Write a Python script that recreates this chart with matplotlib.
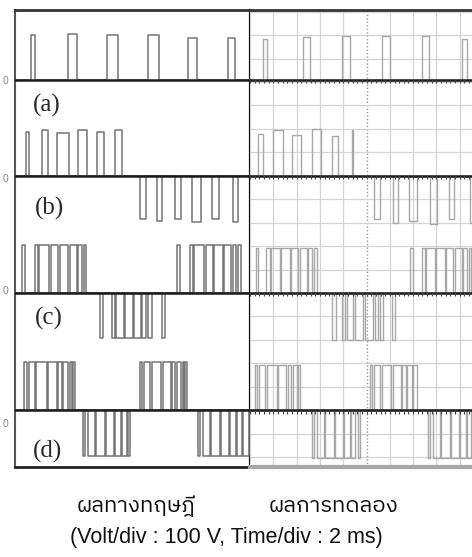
import matplotlib
matplotlib.use("Agg")
import matplotlib.pyplot as plt
from matplotlib import font_manager as fm
from matplotlib.ft2font import FT2Font
from matplotlib.transforms import blended_transform_factory

# ---------------- data (time in ms, voltage in V) ----------------
# trace zero levels (V) for the stacked traces
ZERO_A1, ZERO_A2, ZERO_C2 = 1410, 1000, 0
ZERO_B1, ZERO_B2, ZERO_C1, ZERO_D1 = 1000, 500, 500, 0
zero_levels = [1410, 1000, 500, 0]
zero_label_levels = [1403, 986, 510, -59]

# ---- theoretical (left) ----
a1_on = [1.37, 4.58, 7.92, 11.44, 14.88, 18.31]
a1_off = [1.72, 5.30, 8.87, 12.39, 15.60, 18.88]
a1_v = [191, 195, 192, 192, 178, 178]

a2_on = [0.94, 2.29, 3.58, 5.38, 7.01, 8.58]
a2_off = [1.20, 2.86, 4.64, 6.15, 7.67, 9.16]
a2_v = [186, 194, 181, 194, 186, 194]

b1_on = [10.73, 12.16, 13.73, 15.17, 16.88, 18.74]
b1_off = [11.22, 12.64, 14.22, 15.94, 17.51, 19.12]
b1_v = [-186, -193, -186, -198, -186, -198]

b2_on = [0.60, 1.72, 2.06, 3.09, 3.82, 4.68, 5.41, 5.88,
         13.90, 15.02, 15.36, 16.39, 17.12, 17.98, 18.71, 19.18]
b2_off = [0.82, 1.97, 2.96, 3.69, 4.55, 5.28, 5.71, 6.09,
          14.12, 15.27, 16.26, 16.99, 17.85, 18.58, 19.01, 19.39]
b2_amp = 205

c1_on = [7.29, 8.30, 8.71, 9.48, 10.25, 10.94, 11.41, 12.59]
c1_off = [7.58, 8.58, 9.35, 10.12, 10.81, 11.28, 11.73, 12.87]
c1_amp = -190

c2_on = [0.80, 1.20, 1.84, 2.86, 3.69, 4.16, 4.72, 5.02,
         10.73, 11.10, 11.72, 12.68, 13.46, 13.90, 14.40, 14.62]
c2_off = [1.00, 1.72, 2.72, 3.58, 4.01, 4.57, 4.86, 5.15,
          10.93, 11.60, 12.55, 13.35, 13.76, 14.28, 14.53, 14.73]
c2_amp = 205

d1_on = [5.86, 6.26, 6.99, 7.85, 8.62, 9.22, 9.74,
         15.73, 16.13, 16.86, 17.72, 18.49, 19.09, 19.61]
d1_off = [6.05, 6.86, 7.72, 8.49, 9.09, 9.58, 9.87,
          15.92, 16.73, 17.59, 18.36, 18.96, 19.45, 20.05]
d1_amp = -196

# ---- experimental (right) ----
ra1_on = [1.12, 4.55, 7.90, 11.33, 14.76, 18.20]
ra1_off = [1.46, 5.15, 8.58, 12.02, 15.36, 18.63]
ra1_v = [175, 183, 188, 188, 188, 175]

ra2_on = [0.69, 1.97, 3.61, 5.32, 7.04, 8.76]
ra2_off = [1.12, 2.83, 4.38, 6.09, 7.55, 8.88]
ra2_v = [179, 196, 175, 200, 170, 196]

rb1_on = [10.64, 12.27, 13.65, 15.45, 17.08, 18.88]
rb1_off = [11.16, 12.70, 14.33, 16.05, 17.51, 19.40]
rb1_v = [-186, -202, -194, -207, -186, -200]

rb2_on = [0.50, 1.40, 1.80, 2.68, 3.52, 4.28, 4.98, 5.50,
          13.73, 14.73, 15.10, 15.98, 16.82, 17.58, 18.28, 18.80]
rb2_off = [0.72, 1.70, 2.55, 3.40, 4.15, 4.85, 5.30, 5.72,
           13.95, 15.00, 15.85, 16.70, 17.45, 18.15, 18.60, 19.00]
rb2_amp = 192

rc1_on = [7.06, 7.87, 8.30, 9.00, 9.85, 10.70, 11.15, 12.16]
rc1_off = [7.35, 8.15, 8.87, 9.72, 10.58, 11.01, 11.45, 12.44]
rc1_amp = -200

rc2_on = [0.43, 0.80, 1.43, 2.42, 3.22, 3.68, 4.10,
          10.30, 10.68, 11.30, 12.25, 13.04, 13.50, 14.00]
rc2_off = [0.62, 1.30, 2.29, 3.10, 3.55, 4.00, 4.29,
           10.50, 11.18, 12.12, 12.92, 13.36, 13.88, 14.33]
rc2_amp = 192

rd1_on = [5.32, 5.72, 6.45, 7.31, 8.08, 8.68, 9.25,
          15.27, 15.67, 16.40, 17.26, 18.03, 18.63, 19.15]
rd1_off = [5.50, 6.32, 7.18, 7.95, 8.55, 9.04, 9.44,
           15.46, 16.27, 17.13, 17.90, 18.50, 18.99, 19.30]
rd1_amp = -205

panel_labels = ["(a)", "(b)", "(c)", "(d)"]
panel_label_t = [2.75, 3.0, 2.92, 2.75]
panel_label_v = [1301, 862, 393, -175]

caption_left = "ผลทางทฤษฎี"
caption_right = "ผลการทดลอง"
caption_scale = "(Volt/div : 100 V, Time/div : 2 ms)"

time_div = 2.0      # ms per division
volt_div = 100.0    # V per division

# ---------------- fonts ----------------
def pick_font(sample):
    best = None
    for f in fm.fontManager.ttflist:
        try:
            cm = FT2Font(f.fname).get_charmap()
        except Exception:
            continue
        if all(ord(c) in cm for c in sample):
            if "Sans" in f.name or best is None:
                best = f.name
                if "Sans" in f.name:
                    break
    return best

thai_font = pick_font(caption_left + caption_right)
thai_family = [thai_font, "DejaVu Sans"] if thai_font else ["DejaVu Sans"]

# ---------------- figure ----------------
W, H = 472, 557
fig = plt.figure(figsize=(W / 100, H / 100), dpi=100)
fig.patch.set_facecolor("white")

L_X0, DIV_X, R_X1 = 15, 250, 472
Y_TOP, Y_BOT = 10, 467
axL = fig.add_axes([L_X0 / W, 1 - Y_BOT / H, (DIV_X - L_X0) / W, (Y_BOT - Y_TOP) / H])
axR = fig.add_axes([DIV_X / W, 1 - Y_BOT / H, (R_X1 - DIV_X) / W, (Y_BOT - Y_TOP) / H])

YLIM = (-242, 1707)
XLIM_L = (0, 20.17)
XLIM_R = (0, 19.05)


def trace(ax, on, off, amps, base, t_end, **kw):
    if not hasattr(amps, "__len__"):
        amps = [amps] * len(on)
    xs, ys = [0.0], [base]
    for t0, t1, a in zip(on, off, amps):
        xs += [t0, t0, t1, t1]
        ys += [base, base + a, base + a, base]
    xs.append(t_end)
    ys.append(base)
    ax.plot(xs, ys, **kw)


# ---- right panel grid ----
t = 0.0
while t <= XLIM_R[1] + 1e-9:
    if abs(t - 10.0) < 1e-6:
        axR.axvline(t, color="#9a9a9a", lw=1.0, ls=(0, (1, 1.5)), zorder=1)
    else:
        axR.axvline(t, color="#d4d4d4", lw=0.9, zorder=1)
    t += time_div
v = -200.0
while v <= YLIM[1]:
    axR.axhline(v, color="#d4d4d4", lw=0.9, zorder=1)
    v += volt_div

# ---- traces ----
thk = dict(color="#747474", lw=1.1, zorder=3)
exp = dict(color="#a8a8a8", lw=1.0, zorder=3)

trace(axL, a1_on, a1_off, a1_v, ZERO_A1, XLIM_L[1], **thk)
trace(axL, a2_on, a2_off, a2_v, ZERO_A2, XLIM_L[1], **thk)
trace(axL, b1_on, b1_off, b1_v, ZERO_B1, XLIM_L[1], **thk)
trace(axL, b2_on, b2_off, b2_amp, ZERO_B2, XLIM_L[1], **thk)
trace(axL, c1_on, c1_off, c1_amp, ZERO_C1, XLIM_L[1], **thk)
trace(axL, c2_on, c2_off, c2_amp, ZERO_C2, XLIM_L[1], **thk)
trace(axL, d1_on, d1_off, d1_amp, ZERO_D1, XLIM_L[1], **thk)

trace(axR, ra1_on, ra1_off, ra1_v, ZERO_A1, XLIM_R[1] + 1, **exp)
trace(axR, ra2_on, ra2_off, ra2_v, ZERO_A2, XLIM_R[1] + 1, **exp)
trace(axR, rb1_on, rb1_off, rb1_v, ZERO_B1, XLIM_R[1] + 1, **exp)
trace(axR, rb2_on, rb2_off, rb2_amp, ZERO_B2, XLIM_R[1] + 1, **exp)
trace(axR, rc1_on, rc1_off, rc1_amp, ZERO_C1, XLIM_R[1] + 1, **exp)
trace(axR, rc2_on, rc2_off, rc2_amp, ZERO_C2, XLIM_R[1] + 1, **exp)
trace(axR, rd1_on, rd1_off, rd1_amp, ZERO_D1, XLIM_R[1] + 1, **exp)

# ---- zero lines ----
for z in zero_levels:
    axL.axhline(z, color="#1a1a1a", lw=1.8, zorder=5)
    axR.axhline(z, color="#1a1a1a", lw=1.8, zorder=5)
    ticks = []
    tt = 0.0
    while tt <= XLIM_R[1]:
        ticks.append(tt)
        tt += time_div / 5
    axR.plot(ticks, [z - 6] * len(ticks), ls="none", marker="|", ms=2.5,
             mew=0.8, color="#444444", zorder=5)

for ax, xl in ((axL, XLIM_L), (axR, XLIM_R)):
    ax.set_xlim(*xl)
    ax.set_ylim(*YLIM)
    ax.set_xticks([])
    ax.set_yticks([])
    ax.set_facecolor("white")

# spines
axL.spines["left"].set_color("#555555"); axL.spines["left"].set_linewidth(1.5)
axL.spines["top"].set_color("#333333"); axL.spines["top"].set_linewidth(2.0)
axL.spines["bottom"].set_color("#222222"); axL.spines["bottom"].set_linewidth(2.0)
axL.spines["right"].set_color("#111111"); axL.spines["right"].set_linewidth(1.6)
axR.spines["left"].set_visible(False)
axR.spines["right"].set_visible(False)
axR.spines["top"].set_color("#333333"); axR.spines["top"].set_linewidth(2.0)
axR.spines["bottom"].set_color("#a8a8a8"); axR.spines["bottom"].set_linewidth(3.0)

# panel labels
for lab, tx, vy in zip(panel_labels, panel_label_t, panel_label_v):
    axL.text(tx, vy, lab, ha="center", va="center", fontsize=18,
             family=["Liberation Serif", "DejaVu Serif"], color="#2a2a2a", zorder=6)

# zero labels
tr = blended_transform_factory(axL.transAxes, axL.transData)
for vy in zero_label_levels:
    axL.text(-0.042, vy, "0", transform=tr, ha="center", va="center",
             fontsize=7.5, color="#8a8a8a", family=["Liberation Sans", "DejaVu Sans"])

# captions
fig.text(136 / W, 1 - 506 / H, caption_left, ha="center", va="center",
         fontsize=16, family=thai_family, color="#111111")
fig.text(334 / W, 1 - 506 / H, caption_right, ha="center", va="center",
         fontsize=16, family=thai_family, color="#111111")
fig.text(226 / W, 1 - 537 / H, caption_scale, ha="center", va="center",
         fontsize=15.5, family=["Liberation Sans", "DejaVu Sans"], color="#111111")

fig.savefig("out.png", dpi=100, facecolor="white")
